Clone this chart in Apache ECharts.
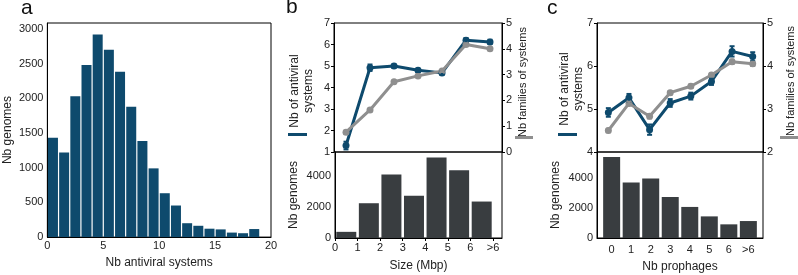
<!DOCTYPE html>
<html>
<head>
<meta charset="utf-8">
<script src="https://cdn.jsdelivr.net/npm/echarts@6/dist/echarts.min.js"></script>
<style>
  html, body { margin: 0; padding: 0; background: #fff; }
  #main { width: 798px; height: 275px; }
</style>
</head>
<body>
<div id="main"></div>
<script>
// panel a: histogram of antiviral systems per genome (bins of width 1)
var histBins = [0, 1, 2, 3, 4, 5, 6, 7, 8, 9, 10, 11, 12, 13, 14, 15, 16, 17, 18];
var histCounts = [1430, 1217, 2030, 2480, 2920, 2700, 2380, 1876, 1384, 990, 632, 455, 200, 163, 121, 111, 65, 56, 116];

// panel b: by genome size
var sizeLabels = ['0', '1', '2', '3', '4', '5', '6', '>6'];
var sizeSystems = [1.3, 4.92, 5.0, 4.8, 4.68, 6.2, 6.12];
var sizeSystemsErr = [0.18, 0.15, 0.08, 0.08, 0.08, 0.1, 0.1];
var sizeFamilies = [0.77, 1.63, 2.72, 2.95, 3.14, 4.17, 4.0];
var sizeFamiliesErr = [0.06, 0.05, 0.04, 0.04, 0.04, 0.05, 0.05];
var sizeGenomes = [400, 2260, 4130, 2750, 5230, 4410, 2370];

// panel c: by number of prophages
var prophageLabels = ['0', '1', '2', '3', '4', '5', '6', '>6'];
var prophageSystems = [4.92, 5.26, 4.52, 5.14, 5.3, 5.64, 6.34, 6.22];
var prophageSystemsErr = [0.1, 0.09, 0.12, 0.09, 0.08, 0.08, 0.12, 0.1];
var prophageFamilies = [2.5, 3.13, 2.83, 3.38, 3.53, 3.79, 4.1, 4.05];
var prophageFamiliesErr = [0.04, 0.04, 0.05, 0.04, 0.04, 0.04, 0.05, 0.05];
var prophageGenomes = [5400, 3690, 3960, 2730, 2070, 1440, 910, 1130];

var FONT = '"Liberation Sans", Arial, sans-serif';
var BLUE = '#0e4a6d';
var GREY = '#8f8f8f';
var DARK = '#393d40';
var TXT = '#222';

var chart = echarts.init(document.getElementById('main'), null, { renderer: 'canvas' });

function axis(o) {
  var a = {
    type: 'value',
    gridIndex: o.grid,
    min: o.min,
    max: o.max,
    interval: o.interval,
    position: o.position,
    show: o.show !== false,
    splitLine: { show: false },
    axisLine: { show: true, onZero: false, lineStyle: { color: '#000', width: 1 } },
    axisTick: { show: o.tick !== false, length: 3, lineStyle: { color: '#000' } },
    axisLabel: {
      color: TXT, fontSize: 11, fontFamily: FONT, margin: o.margin || 4,
      showMaxLabel: o.showMax !== false,
      formatter: o.formatter || function (v) { return String(v); }
    },
    name: o.name,
    nameLocation: 'middle',
    nameGap: o.nameGap,
    nameTextStyle: { color: TXT, fontSize: 12, fontFamily: FONT, lineHeight: 14 }
  };
  if (o.customValues) {
    a.axisLabel.customValues = o.customValues;
    a.axisTick.customValues = o.customValues;
  }
  return a;
}

function errorSeries(xi, yi, xs, ys, errs, color) {
  return {
    type: 'custom',
    xAxisIndex: xi,
    yAxisIndex: yi,
    z: 4,
    silent: true,
    data: ys.map(function (v, i) { return [xs[i], v - errs[i], v + errs[i]]; }),
    renderItem: function (params, api) {
      var lo = api.coord([api.value(0), api.value(1)]);
      var hi = api.coord([api.value(0), api.value(2)]);
      var st = { stroke: color, lineWidth: 2 };
      return {
        type: 'group',
        children: [
          { type: 'line', shape: { x1: lo[0], y1: lo[1], x2: hi[0], y2: hi[1] }, style: st },
          { type: 'line', shape: { x1: lo[0] - 2.5, y1: lo[1], x2: lo[0] + 2.5, y2: lo[1] }, style: st },
          { type: 'line', shape: { x1: hi[0] - 2.5, y1: hi[1], x2: hi[0] + 2.5, y2: hi[1] }, style: st }
        ]
      };
    }
  };
}

function lineSeries(xi, yi, xs, ys, color) {
  return {
    type: 'line',
    xAxisIndex: xi,
    yAxisIndex: yi,
    data: ys.map(function (v, i) { return [xs[i], v]; }),
    symbol: 'circle',
    symbolSize: 7,
    lineStyle: { color: color, width: 3 },
    itemStyle: { color: color },
    z: 3,
    silent: true
  };
}

// rotated axis title, reading bottom to top
function vtitle(text, x, y, size) {
  return {
    type: 'text', x: x, y: y, rotation: Math.PI / 2,
    style: { text: text, fontSize: size, fontFamily: FONT, fill: TXT, align: 'center', verticalAlign: 'middle', lineHeight: 14 }
  };
}

var sizeX = sizeGenomes.map(function (v, i) { return i + 0.5; });
var prophageX = prophageGenomes.map(function (v, i) { return i; });

var gridStyle = { show: true, borderColor: '#000', borderWidth: 1, backgroundColor: 'transparent' };

var option = {
  animation: false,
  backgroundColor: '#fff',
  textStyle: { fontFamily: FONT },
  grid: [
    Object.assign({ left: 44, top: 23, width: 227, height: 221 }, gridStyle),
    Object.assign({ left: 334, top: 23, width: 168, height: 129 }, gridStyle),
    Object.assign({ left: 335, top: 152, width: 167, height: 86 }, gridStyle),
    Object.assign({ left: 597, top: 23, width: 166, height: 129 }, gridStyle),
    Object.assign({ left: 597, top: 152, width: 166, height: 86 }, gridStyle)
  ],
  xAxis: [
    axis({ grid: 0, min: 0, max: 20, interval: 5, tick: false, margin: 3,
           name: 'Nb antiviral systems', nameGap: 15 }),
    axis({ grid: 1, min: 0, max: 7, show: false }),
    axis({ grid: 2, min: 0, max: 7.4, interval: 1, showMax: false, margin: 4,
           formatter: function (v) { return sizeLabels[v] !== undefined ? sizeLabels[v] : ''; },
           name: 'Size (Mbp)', nameGap: 21 }),
    axis({ grid: 3, min: -0.55, max: 7.5, show: false }),
    axis({ grid: 4, min: -0.75, max: 7.75, tick: false, margin: 6,
           customValues: prophageX,
           formatter: function (v) { return prophageLabels[Math.round(v)]; },
           name: 'Nb prophages', nameGap: 22 })
  ],
  yAxis: [
    axis({ grid: 0, min: 0, max: 3084, interval: 500, showMax: false, tick: false,
           name: 'Nb genomes', nameGap: 32 }),
    axis({ grid: 1, min: 1, max: 7, interval: 1, position: 'left' }),
    axis({ grid: 1, min: 0, max: 5, interval: 1, position: 'right' }),
    axis({ grid: 2, min: 0, max: 5590, interval: 2000, showMax: false, tick: false,
           name: 'Nb genomes', nameGap: 34 }),
    axis({ grid: 3, min: 4, max: 7, interval: 1, position: 'left' }),
    axis({ grid: 3, min: 2, max: 5, interval: 1, position: 'right' }),
    axis({ grid: 4, min: 0, max: 5730, interval: 2000, showMax: false, tick: false,
           name: 'Nb genomes', nameGap: 34 })
  ],
  series: [
    {
      type: 'bar', xAxisIndex: 0, yAxisIndex: 0, barWidth: 10, silent: true,
      itemStyle: { color: BLUE },
      data: histCounts.map(function (v, i) { return [histBins[i] + 0.5, v]; })
    },
    lineSeries(1, 1, sizeX, sizeSystems, BLUE),
    errorSeries(1, 1, sizeX, sizeSystems, sizeSystemsErr, BLUE),
    lineSeries(1, 2, sizeX, sizeFamilies, GREY),
    errorSeries(1, 2, sizeX, sizeFamilies, sizeFamiliesErr, GREY),
    {
      type: 'bar', xAxisIndex: 2, yAxisIndex: 3, barWidth: 20, silent: true,
      itemStyle: { color: DARK },
      data: sizeGenomes.map(function (v, i) { return [sizeX[i], v]; })
    },
    lineSeries(3, 4, prophageX, prophageSystems, BLUE),
    errorSeries(3, 4, prophageX, prophageSystems, prophageSystemsErr, BLUE),
    lineSeries(3, 5, prophageX, prophageFamilies, GREY),
    errorSeries(3, 5, prophageX, prophageFamilies, prophageFamiliesErr, GREY),
    {
      type: 'bar', xAxisIndex: 4, yAxisIndex: 6, barWidth: 17, silent: true,
      itemStyle: { color: DARK },
      data: prophageGenomes.map(function (v, i) { return [prophageX[i], v]; })
    }
  ],
  graphic: [
    { type: 'text', left: 21, top: -2, style: { text: 'a', fontSize: 21, fontFamily: FONT, fill: '#111' } },
    { type: 'text', left: 286, top: -3, style: { text: 'b', fontSize: 21, fontFamily: FONT, fill: '#111' } },
    { type: 'text', left: 547, top: -2, style: { text: 'c', fontSize: 21, fontFamily: FONT, fill: '#111' } },
    vtitle('Nb of antiviral\nsystems', 302, 91, 12),
    vtitle('Nb families of systems', 523, 82, 11),
    vtitle('Nb of antiviral\nsystems', 572, 89, 12),
    vtitle('Nb families of systems', 791, 81, 11),
    // legend dashes beside the rotated axis titles
    { type: 'rect', shape: { x: 288, y: 133, width: 19, height: 3 }, style: { fill: BLUE } },
    { type: 'rect', shape: { x: 515, y: 136, width: 18, height: 3 }, style: { fill: GREY } },
    { type: 'rect', shape: { x: 558, y: 133, width: 19, height: 3 }, style: { fill: BLUE } },
    { type: 'rect', shape: { x: 780, y: 136, width: 18, height: 3 }, style: { fill: GREY } }
  ]
};

chart.setOption(option);
</script>
</body>
</html>
